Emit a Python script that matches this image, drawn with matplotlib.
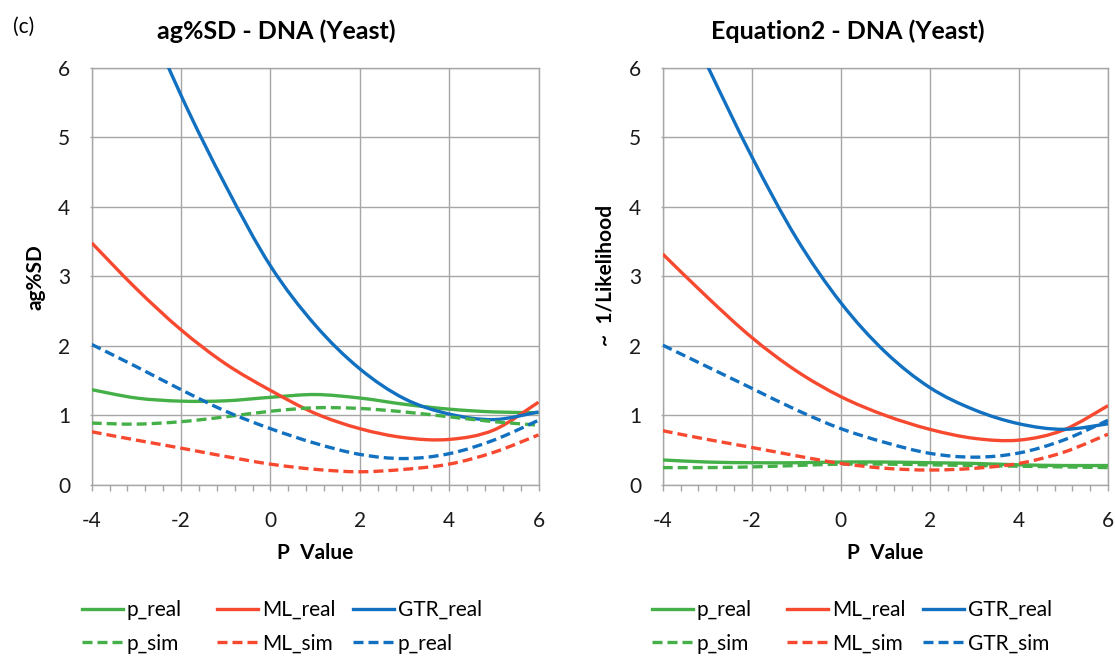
import matplotlib
matplotlib.use('Agg')
import matplotlib.pyplot as plt
from matplotlib.path import Path
from matplotlib.patches import PathPatch
from matplotlib.lines import Line2D
from matplotlib.ticker import MultipleLocator

plt.rcParams['font.family'] = ['Lato', 'DejaVu Sans']

# ---------------- data ----------------
p_values = [-4, -3, -2, -1, 0, 1, 2, 3, 4, 5, 6]

# left panel: ag%SD
agsd_p_real = [1.37, 1.25, 1.205, 1.21, 1.26, 1.30, 1.25, 1.16, 1.09, 1.05, 1.04]
agsd_p_sim = [0.89, 0.875, 0.91, 0.98, 1.06, 1.11, 1.10, 1.05, 0.98, 0.91, 0.86]
agsd_ml_real = [3.48, 2.82, 2.23, 1.74, 1.36, 1.03, 0.81, 0.68, 0.655, 0.79, 1.19]
agsd_ml_sim = [0.765, 0.645, 0.53, 0.41, 0.30, 0.225, 0.19, 0.225, 0.30, 0.47, 0.72]
agsd_gtr_real = [8.8, 7.1, 5.6, 4.3, 3.15, 2.3, 1.67, 1.24, 1.02, 0.94, 1.05]
agsd_gtr_sim = [2.02, 1.70, 1.37, 1.06, 0.81, 0.60, 0.44, 0.38, 0.45, 0.645, 0.93]

# right panel: Equation2
eq2_p_real = [0.36, 0.33, 0.32, 0.32, 0.33, 0.33, 0.32, 0.31, 0.29, 0.28, 0.28]
eq2_p_sim = [0.25, 0.25, 0.26, 0.28, 0.30, 0.30, 0.29, 0.28, 0.27, 0.26, 0.25]
eq2_ml_real = [3.32, 2.70, 2.12, 1.64, 1.27, 1.00, 0.80, 0.67, 0.645, 0.79, 1.14]
eq2_ml_sim = [0.78, 0.655, 0.54, 0.42, 0.31, 0.24, 0.215, 0.24, 0.31, 0.47, 0.73]
eq2_gtr_real = [7.4, 6.03, 4.72, 3.55, 2.62, 1.91, 1.40, 1.08, 0.88, 0.80, 0.88]
eq2_gtr_sim = [2.01, 1.70, 1.39, 1.08, 0.81, 0.61, 0.455, 0.40, 0.46, 0.645, 0.93]

left_labels = ['p_real', 'ML_real', 'GTR_real', 'p_sim', 'ML_sim', 'p_real']
right_labels = ['p_real', 'ML_real', 'GTR_real', 'p_sim', 'ML_sim', 'GTR_sim']

x_ticks = [-4, -2, 0, 2, 4, 6]
y_ticks = [0, 1, 2, 3, 4, 5, 6]

# ---------------- style ----------------
GREEN = '#45B048'
RED = '#F7492F'
BLUE = '#1170C0'
GRID = '#A6A6A6'
LW = 2.4
DASH = (0, (3, 1.5))
FS = 15

W, H = 1115, 663
fig = plt.figure(figsize=(W / 100, H / 100), dpi=100)


def px(x, y):
    return x / W, 1 - y / H


def smooth_path(xs, ys):
    verts = [(xs[0], ys[0])]
    codes = [Path.MOVETO]
    n = len(xs)
    for i in range(n - 1):
        x0, y0 = xs[max(i - 1, 0)], ys[max(i - 1, 0)]
        x1, y1 = xs[i], ys[i]
        x2, y2 = xs[i + 1], ys[i + 1]
        x3, y3 = xs[min(i + 2, n - 1)], ys[min(i + 2, n - 1)]
        c1 = (x1 + (x2 - x0) / 6, y1 + (y2 - y0) / 6)
        c2 = (x2 - (x3 - x1) / 6, y2 - (y3 - y1) / 6)
        verts += [c1, c2, (x2, y2)]
        codes += [Path.CURVE4] * 3
    return Path(verts, codes)


def draw(ax, ys, color, dashed):
    patch = PathPatch(smooth_path(p_values, ys), fill=False, edgecolor=color,
                      lw=LW, linestyle=DASH if dashed else '-',
                      capstyle='butt', joinstyle='round', zorder=3)
    ax.add_patch(patch)


def setup(ax):
    ax.set_xlim(-4, 6)
    ax.set_ylim(0, 6)
    ax.set_xticks(x_ticks)
    ax.set_yticks(y_ticks)
    ax.xaxis.set_minor_locator(MultipleLocator(0.4))
    ax.grid(True, which='major', color=GRID, lw=1.0, zorder=0)
    ax.set_axisbelow(True)
    for s in ax.spines.values():
        s.set_color(GRID)
        s.set_linewidth(1.0)
    ax.tick_params(axis='x', which='both', length=4, width=1.0, color=GRID,
                   pad=15, labelsize=FS, labelcolor='#1a1a1a')
    ax.tick_params(axis='y', which='major', length=1.5, width=1.0, color=GRID,
                   pad=14, labelsize=FS, labelcolor='#1a1a1a')
    ax.set_xticklabels([str(t) for t in x_ticks])
    ax.set_yticklabels([str(t) for t in y_ticks])


def legend(ax_labels, col_x):
    handles = [
        (Line2D([], [], color=GREEN, lw=LW), Line2D([], [], color=GREEN, lw=LW, linestyle=DASH)),
        (Line2D([], [], color=RED, lw=LW), Line2D([], [], color=RED, lw=LW, linestyle=DASH)),
        (Line2D([], [], color=BLUE, lw=LW), Line2D([], [], color=BLUE, lw=LW, linestyle=DASH)),
    ]
    for j in range(3):
        fig.legend(list(handles[j]), [ax_labels[j], ax_labels[j + 3]],
                   loc='upper left', bbox_to_anchor=px(col_x[j], 600),
                   bbox_transform=fig.transFigure, frameon=False,
                   borderpad=0, borderaxespad=0, handlelength=1.97,
                   handletextpad=0.2, labelspacing=0.65, fontsize=FS)


# left axes
ax1 = fig.add_axes([91.7 / W, (H - 485) / H, 446.8 / W, 417.5 / H])
setup(ax1)
draw(ax1, agsd_p_real, GREEN, False)
draw(ax1, agsd_ml_real, RED, False)
draw(ax1, agsd_gtr_real, BLUE, False)
draw(ax1, agsd_p_sim, GREEN, True)
draw(ax1, agsd_ml_sim, RED, True)
draw(ax1, agsd_gtr_sim, BLUE, True)

# right axes
ax2 = fig.add_axes([662.7 / W, (H - 485) / H, 445.3 / W, 417.5 / H])
setup(ax2)
draw(ax2, eq2_p_real, GREEN, False)
draw(ax2, eq2_ml_real, RED, False)
draw(ax2, eq2_gtr_real, BLUE, False)
draw(ax2, eq2_p_sim, GREEN, True)
draw(ax2, eq2_ml_sim, RED, True)
draw(ax2, eq2_gtr_sim, BLUE, True)

# texts
fig.text(*px(12.5, 27), '(c)', fontsize=15, ha='left', va='center')
fig.text(*px(276, 31), 'ag%SD - DNA (Yeast)', fontsize=18, fontweight='bold',
         ha='center', va='center')
fig.text(*px(848, 31), 'Equation2 - DNA (Yeast)', fontsize=18, fontweight='bold',
         ha='center', va='center')
fig.text(*px(36, 277), 'ag%SD', fontsize=15, fontweight='bold', rotation=90,
         ha='center', va='center')
fig.text(*px(605, 275), '~  1/Likelihood', fontsize=15, fontweight='bold',
         rotation=90, ha='center', va='center')
fig.text(*px(315, 553), 'P  Value', fontsize=15, fontweight='bold',
         ha='center', va='center')
fig.text(*px(885, 553), 'P  Value', fontsize=15, fontweight='bold',
         ha='center', va='center')

legend(left_labels, [81.7, 216.7, 352.7])
legend(right_labels, [651.7, 786.7, 922.7])

fig.savefig('out.png', dpi=100)
